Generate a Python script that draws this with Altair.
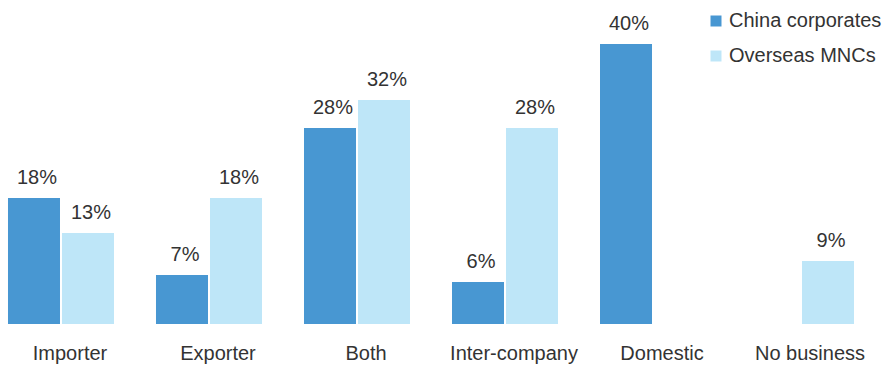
import altair as alt
import pandas as pd

categories = ["Importer", "Exporter", "Both", "Inter-company", "Domestic", "No business"]
series = ["China corporates", "Overseas MNCs"]
china = [18, 7, 28, 6, 40, None]
overseas = [13, 18, 32, 28, None, 9]
colors = ["#4897D2", "#BEE6F8"]

rows = []
for c, a, b in zip(categories, china, overseas):
    if a is not None:
        rows.append({"cat": c, "series": series[0], "value": a, "label": f"{a}%"})
    if b is not None:
        rows.append({"cat": c, "series": series[1], "value": b, "label": f"{b}%"})
df = pd.DataFrame(rows)

FONT = "Liberation Sans"

x = alt.X("cat:N", sort=categories, title=None,
          scale=alt.Scale(paddingInner=0.2838, paddingOuter=0.054),
          axis=alt.Axis(labelAngle=0, domain=False, ticks=False, labelPadding=19,
                        labelFontSize=20, labelFont=FONT, labelColor="#333333",
                        labelOffset=9, labelBaseline="top"))
xo = alt.XOffset("series:N", sort=series, scale=alt.Scale(paddingInner=0.037, paddingOuter=0))
y = alt.Y("value:Q", scale=alt.Scale(domain=[0, 40]), axis=None)

bars = alt.Chart(df).mark_bar().encode(
    x=x, xOffset=xo, y=y,
    color=alt.Color("series:N", sort=series,
                    scale=alt.Scale(domain=series, range=colors),
                    legend=alt.Legend(title=None, orient="none", legendX=706, legendY=-33,
                                      symbolType="square", symbolSize=121, symbolStrokeWidth=0,
                                      labelFontSize=20, labelFont=FONT, labelColor="#333333",
                                      rowPadding=15, labelOffset=3)),
)

text = alt.Chart(df).mark_text(baseline="alphabetic", dy=-14, dx=3, fontSize=20,
                               font=FONT, color="#333333").encode(
    x=alt.X("cat:N", sort=categories), xOffset=xo, y=y, text="label:N")

chart = alt.layer(bars, text).properties(
    width=862, height=280, autosize="none",
    padding={"left": 0, "top": 44, "right": 25, "bottom": 41},
).configure_view(stroke=None)

chart.save("out.html", embed_options={"renderer": "svg", "actions": False})
